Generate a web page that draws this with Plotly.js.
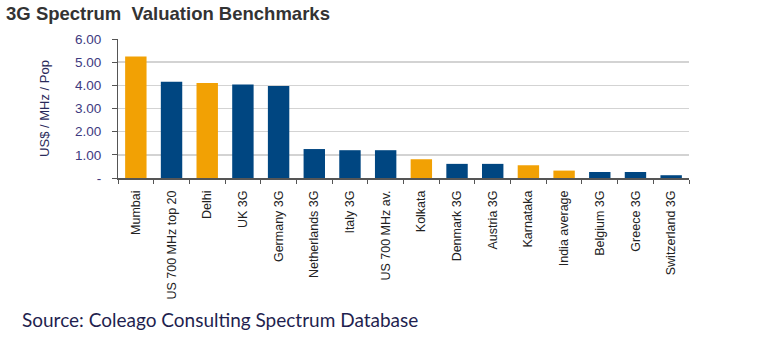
<!DOCTYPE html>
<html>
<head>
<meta charset="utf-8">
<script src="https://cdn.plot.ly/plotly-3.0.1.min.js"></script>
<style>html,body{margin:0;padding:0;background:#fff;}#chart{width:758px;height:344px;}</style>
</head>
<body>
<div id="chart"></div>
<script>
var categories = ["Mumbai", "US 700 MHz top 20", "Delhi", "UK 3G", "Germany 3G", "Netherlands 3G", "Italy 3G", "US 700 MHz av.", "Kolkata", "Denmark 3G", "Austria 3G", "Karnataka", "India average", "Belgium 3G", "Greece 3G", "Switzerland 3G"];
var values = [5.24, 4.16, 4.10, 4.04, 3.97, 1.25, 1.20, 1.20, 0.81, 0.61, 0.61, 0.55, 0.32, 0.26, 0.26, 0.12];
var isIndia = [true, false, true, false, false, false, false, false, true, false, false, true, true, false, false, false];
var yTickVals = [0, 1, 2, 3, 4, 5, 6];
var yTickText = ["-", "1.00", "2.00", "3.00", "4.00", "5.00", "6.00"];

var ORANGE = "#F2A104", NAVY = "#004681";
var colors = isIndia.map(function(b){ return b ? ORANGE : NAVY; });

var trace = {
  type: "bar",
  x: categories,
  y: values,
  marker: {color: colors},
  hoverinfo: "x+y"
};

var layout = {
  width: 758, height: 344,
  margin: {l: 118, r: 69, t: 39, b: 166},
  paper_bgcolor: "#fff", plot_bgcolor: "#fff",
  bargap: 0.4,
  showlegend: false,
  xaxis: {
    type: "category",
    tickangle: -90,
    ticks: "outside", tickson: "boundaries", ticklen: 4, tickcolor: "#555", tickwidth: 1,
    ticklabelstandoff: 6,
    showline: true, linecolor: "#555", linewidth: 1.5,
    showgrid: false,
    tickfont: {family: "Liberation Sans, Arial, sans-serif", size: 12.5, color: "#222"}
  },
  yaxis: {
    range: [0, 6],
    tickvals: yTickVals, ticktext: yTickText,
    ticks: "outside", ticklen: 5, tickcolor: "#555",
    ticklabelstandoff: 8,
    showline: true, linecolor: "#555", linewidth: 1,
    showgrid: true, gridcolor: "#D3D3D3", gridwidth: 1.5,
    zeroline: false,
    tickfont: {family: "Liberation Sans, Arial, sans-serif", size: 13.5, color: "#3E3A80"},
    title: {text: "US$ / MHz / Pop", standoff: 22, font: {family: "Liberation Sans, Arial, sans-serif", size: 13, color: "#2A2A5A"}}
  },
  title: {
    text: "<b>3G Spectrum  Valuation Benchmarks</b>",
    x: 0.008, xanchor: "left", y: 0.98, yanchor: "top",
    font: {family: "Liberation Sans, Arial, sans-serif", size: 18.5, color: "#333"}
  },
  annotations: [{
    text: "Source: Coleago Consulting Spectrum Database",
    xref: "paper", yref: "paper",
    x: -0.172, xanchor: "left",
    y: 0, yshift: -141, yanchor: "middle",
    showarrow: false,
    font: {family: "Lato, Open Sans, sans-serif", size: 19, color: "#1F1F4F"}
  }]
};

Plotly.newPlot("chart", [trace], layout, {displayModeBar: false, staticPlot: true});
</script>
</body>
</html>
